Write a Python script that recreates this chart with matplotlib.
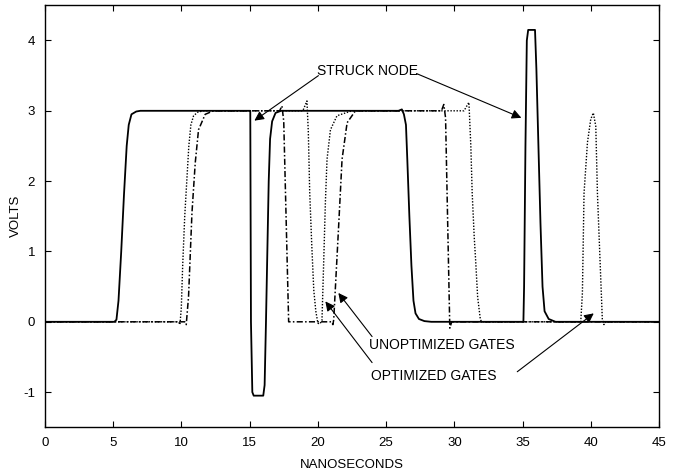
import numpy as np
import matplotlib.pyplot as plt

plt.rcParams['font.family'] = ['Liberation Sans', 'DejaVu Sans']
plt.rcParams['axes.unicode_minus'] = False

# struck node (solid)
t_struck = [0, 5.1, 5.25, 5.4, 5.6, 5.8, 6.0, 6.15, 6.35, 6.7, 7.0,
            15.05, 15.1, 15.2, 15.3, 16.0, 16.1, 16.2, 16.4, 16.5, 16.65, 16.9, 17.3,
            25.9, 26.15, 26.3, 26.45, 26.55, 26.7, 26.85, 27.0, 27.15, 27.4, 27.8, 28.3,
            35.05, 35.1, 35.2, 35.3, 35.4, 35.9, 36.0, 36.15, 36.3, 36.45, 36.6, 36.9, 37.4, 45]
v_struck = [0, 0, 0.03, 0.3, 1.0, 1.8, 2.5, 2.8, 2.95, 2.99, 3.0,
            3.0, 0.0, -1.0, -1.05, -1.05, -0.9, 0.0, 2.0, 2.6, 2.85, 2.97, 3.0,
            3.0, 3.02, 2.95, 2.8, 2.3, 1.5, 0.8, 0.3, 0.12, 0.04, 0.01, 0.0,
            0.0, 0.5, 2.5, 4.0, 4.15, 4.15, 3.6, 2.5, 1.4, 0.5, 0.15, 0.04, 0.0, 0.0]

# optimized gates (dotted)
t_opt = [0, 9.8, 9.9, 10.0, 10.1, 10.25, 10.4, 10.55, 10.7, 10.9, 11.2, 11.6,
         18.9, 19.2, 19.3, 19.4, 19.55, 19.7, 19.85, 20.0, 20.15, 20.3, 20.43, 20.55, 20.67,
         20.92, 21.4, 22.5,
         30.7, 31.06, 31.2, 31.3, 31.45, 31.55, 31.7, 31.9, 32.0,
         39.25, 39.37, 39.49, 39.74, 39.98, 40.17, 40.35, 40.47, 40.66, 40.83, 40.95, 41.1, 45]
v_opt = [0, 0, -0.04, 0.2, 0.8, 1.5, 2.0, 2.5, 2.8, 2.93, 2.98, 3.0,
         3.0, 3.14, 2.7, 1.85, 1.1, 0.45, 0.15, -0.02, -0.03, 0.02, 0.88, 1.7, 2.31,
         2.73, 2.93, 3.0,
         3.0, 3.12, 2.5, 1.83, 1.2, 0.88, 0.35, 0.03, 0.0,
         0.0, 0.41, 1.83, 2.55, 2.88, 2.97, 2.78, 1.83, 0.88, 0.03, -0.04, 0.0, 0.0]

# unoptimized gates (dash-dot)
t_unopt = [0, 10.25, 10.36, 10.53, 10.78, 11.02, 11.26, 11.75, 12.36,
           17.2, 17.37, 17.5, 17.86,
           21.0, 21.1, 21.16, 21.52, 21.77, 22.14, 22.75,
           29.05, 29.22, 29.35, 29.66, 29.8, 45]
v_unopt = [0, 0, -0.04, 0.36, 1.55, 2.26, 2.73, 2.95, 3.0,
           3.0, 3.07, 2.85, 0.0,
           0.0, -0.04, 0.03, 1.36, 2.31, 2.83, 3.0,
           3.0, 3.09, 2.9, -0.09, 0.0, 0.0]

fig = plt.figure(figsize=(6.78, 4.73), dpi=100)
ax = fig.add_axes([0.066, 0.0966, 0.9064, 0.8922])

ax.plot(t_struck, v_struck, color='black', lw=1.3, ls='-')
ax.plot(t_opt, v_opt, color='black', lw=1.0, ls=(0, (1, 1.2)))
ax.plot(t_unopt, v_unopt, color='black', lw=1.1, ls=(0, (4, 1.5, 1, 1.5)))

ax.set_xlim(0, 45)
ax.set_ylim(-1.5, 4.5)
ax.set_xticks(np.arange(0, 46, 5))
ax.set_yticks([-1, 0, 1, 2, 3, 4])
ax.tick_params(direction='in', length=4, width=0.8, top=True, right=True,
               labelsize=9.5, pad=7)
for s in ax.spines.values():
    s.set_linewidth(1.0)

ax.set_xlabel('NANOSECONDS', fontsize=9.5)
ax.xaxis.set_label_coords(0.5, -0.076)
ax.set_ylabel('VOLTS', fontsize=9.5)
ax.yaxis.set_label_coords(-0.037, 0.5)

arrow = dict(arrowstyle='-|>', color='black', lw=0.8, mutation_scale=14,
             shrinkA=0, shrinkB=0)
fs = 10
ax.text(23.63, 3.56, 'STRUCK NODE', fontsize=fs, ha='center', va='center')
ax.annotate('', xy=(15.35, 2.86), xytext=(20.04, 3.5), arrowprops=arrow)
ax.annotate('', xy=(34.9, 2.9), xytext=(27.22, 3.53), arrowprops=arrow)

ax.text(23.78, -0.33, 'UNOPTIMIZED GATES', fontsize=fs, ha='left', va='center')
ax.annotate('', xy=(21.5, 0.41), xytext=(23.97, -0.21), arrowprops=arrow)

ax.text(23.9, -0.77, 'OPTIMIZED GATES', fontsize=fs, ha='left', va='center')
ax.annotate('', xy=(20.55, 0.29), xytext=(23.97, -0.58), arrowprops=arrow)
ax.annotate('', xy=(40.2, 0.12), xytext=(34.6, -0.71), arrowprops=arrow)

fig.savefig('out.png', dpi=100)
